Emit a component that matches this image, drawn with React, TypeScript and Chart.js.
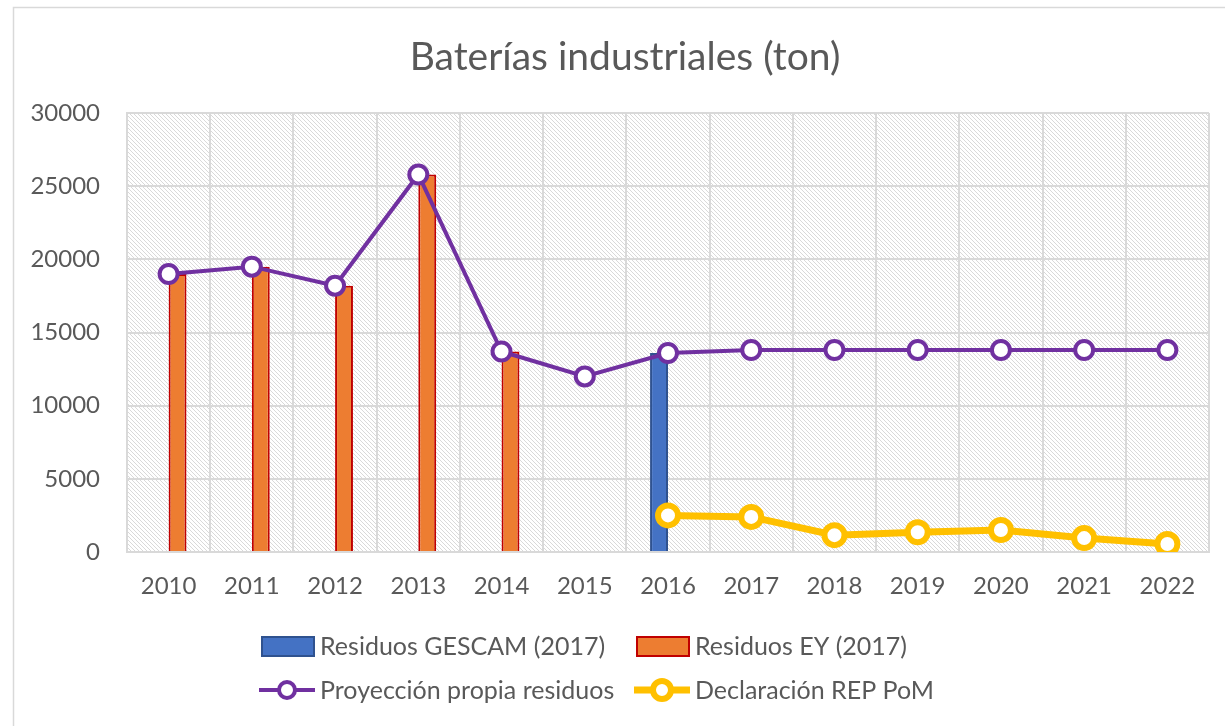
import React, { useEffect, useRef } from "react";
import { Chart, registerables } from "chart.js";

Chart.register(...registerables);

const TITLE = "Baterías industriales (ton)";
const years = ["2010", "2011", "2012", "2013", "2014", "2015", "2016", "2017", "2018", "2019", "2020", "2021", "2022"];
const gescam = [null, null, null, null, null, null, 13600, null, null, null, null, null, null];
const ey = [19000, 19500, 18200, 25800, 13700, null, null, null, null, null, null, null, null];
const proyeccion = [19000, 19500, 18200, 25800, 13700, 12000, 13600, 13800, 13800, 13800, 13800, 13800, 13800];
const declaracion = [null, null, null, null, null, null, 2500, 2400, 1150, 1350, 1500, 950, 550];
const yTicks = [0, 5000, 10000, 15000, 20000, 25000, 30000];

const FONT = "Lato, 'Noto Sans', sans-serif";
const TEXT = "#595959";

const C_BLUE = "#4472C4";
const C_BLUE_B = "#2F528F";
const C_ORANGE = "#ED7D31";
const C_RED = "#C00000";
const C_PURPLE = "#7030A0";
const C_YELLOW = "#FFC000";

function makePattern(ctx: CanvasRenderingContext2D) {
  const c = document.createElement("canvas");
  c.width = 4;
  c.height = 4;
  const p = c.getContext("2d")!;
  p.fillStyle = "#ffffff";
  p.fillRect(0, 0, 4, 4);
  p.fillStyle = "#d9d9d9";
  for (let i = 0; i < 4; i++) p.fillRect(i, i, 1, 1);
  return ctx.createPattern(c, "repeat");
}

const decorPlugin = {
  id: "decor",
  beforeDraw(chart: any) {
    const { ctx, chartArea, width, height } = chart;
    ctx.save();
    ctx.fillStyle = "#ffffff";
    ctx.fillRect(0, 0, width, height);
    ctx.strokeStyle = "#d9d9d9";
    ctx.lineWidth = 1.5;
    ctx.strokeRect(13.5, 7.5, width + 50, height + 50);
    const pat = makePattern(ctx);
    if (pat) {
      ctx.fillStyle = pat;
      ctx.fillRect(chartArea.left, chartArea.top, chartArea.right - chartArea.left, chartArea.bottom - chartArea.top);
    }
    ctx.fillStyle = TEXT;
    ctx.font = `39px ${FONT}`;
    ctx.textAlign = "center";
    ctx.textBaseline = "middle";
    ctx.fillText(TITLE, 625, 57);
    ctx.restore();
  },
  afterDraw(chart: any) {
    const { ctx } = chart;
    const ds = chart.data.datasets;
    ctx.save();
    ctx.font = `25px ${FONT}`;
    ctx.fillStyle = TEXT;
    ctx.textAlign = "left";
    ctx.textBaseline = "middle";
    const cols = [259, 634];
    const rows = [646, 690];
    const items = [
      { ds: ds[2], kind: "bar", col: 0, row: 0 },
      { ds: ds[3], kind: "bar", col: 1, row: 0 },
      { ds: ds[0], kind: "line", col: 0, row: 1 },
      { ds: ds[1], kind: "line", col: 1, row: 1 },
    ];
    for (const it of items) {
      const x = cols[it.col];
      const y = rows[it.row];
      if (it.kind === "bar") {
        ctx.fillStyle = it.ds.backgroundColor;
        ctx.fillRect(x + 3, y - 9, 52, 19);
        ctx.strokeStyle = it.ds.borderColor;
        ctx.lineWidth = 2;
        ctx.strokeRect(x + 3, y - 9, 52, 19);
      } else {
        ctx.strokeStyle = it.ds.borderColor;
        ctx.lineWidth = it.ds.borderWidth;
        ctx.beginPath();
        ctx.moveTo(x, y);
        ctx.lineTo(x + 56, y);
        ctx.stroke();
        ctx.beginPath();
        ctx.arc(x + 28, y, it.ds.pointRadius - 1, 0, Math.PI * 2);
        ctx.fillStyle = "#ffffff";
        ctx.fill();
        ctx.lineWidth = it.ds.pointBorderWidth;
        ctx.stroke();
      }
      ctx.fillStyle = TEXT;
      ctx.fillText(it.ds.label, x + 61, y + 1);
    }
    ctx.restore();
  },
};

export default function App() {
  const ref = useRef<HTMLCanvasElement>(null);
  useEffect(() => {
    document.body.style.margin = "0";
    const canvas = ref.current!;
    const chart = new Chart(canvas, {
      type: "bar",
      data: {
        labels: years,
        datasets: [
          {
            type: "line",
            label: "Proyección propia residuos",
            data: proyeccion,
            borderColor: C_PURPLE,
            backgroundColor: "#ffffff",
            borderWidth: 4,
            pointRadius: 9,
            pointBorderWidth: 4,
            pointBackgroundColor: "#ffffff",
            pointBorderColor: C_PURPLE,
            tension: 0,
            order: 0,
          },
          {
            type: "line",
            label: "Declaración REP PoM",
            data: declaracion,
            borderColor: C_YELLOW,
            backgroundColor: "#ffffff",
            borderWidth: 7,
            pointRadius: 10,
            pointBorderWidth: 6,
            pointBackgroundColor: "#ffffff",
            pointBorderColor: C_YELLOW,
            tension: 0,
            order: 1,
          },
          {
            type: "bar",
            label: "Residuos GESCAM (2017)",
            data: gescam,
            backgroundColor: C_BLUE,
            borderColor: C_BLUE_B,
            borderWidth: 2,
            categoryPercentage: 0.43,
            barPercentage: 1,
            order: 2,
          },
          {
            type: "bar",
            label: "Residuos EY (2017)",
            data: ey,
            backgroundColor: C_ORANGE,
            borderColor: C_RED,
            borderWidth: 2,
            categoryPercentage: 0.43,
            barPercentage: 1,
            order: 3,
          },
        ] as any,
      },
      options: {
        responsive: false,
        animation: false,
        devicePixelRatio: 1,
        layout: { padding: { left: 0, right: 16, top: 113, bottom: 0 } },
        plugins: {
          legend: { display: false },
          title: { display: false },
          tooltip: { enabled: false },
        },
        scales: {
          x: {
            offset: true,
            grid: { color: "#d9d9d9", lineWidth: 2, offset: true, drawTicks: false },
            border: { color: "#d9d9d9", width: 2 },
            ticks: { color: TEXT, font: { family: FONT, size: 24 }, padding: 20, maxRotation: 0 },
            afterFit: (s: any) => {
              s.height = 174;
            },
          },
          y: {
            min: 0,
            max: 30000,
            afterBuildTicks: (s: any) => {
              s.ticks = yTicks.map((v) => ({ value: v }));
            },
            grid: { color: "#d9d9d9", lineWidth: 2, drawTicks: false },
            border: { color: "#d9d9d9", width: 2 },
            ticks: {
              color: TEXT,
              font: { family: FONT, size: 24 },
              padding: 27,
              callback: (v: any) => String(v),
            },
            afterFit: (s: any) => {
              s.width = 127;
            },
          },
        },
      },
      plugins: [decorPlugin],
    });
    return () => chart.destroy();
  }, []);
  return (
    <div style={{ width: 1225, height: 726, position: "relative" }}>
      <canvas ref={ref} width={1225} height={726} style={{ display: "block" }} />
    </div>
  );
}
